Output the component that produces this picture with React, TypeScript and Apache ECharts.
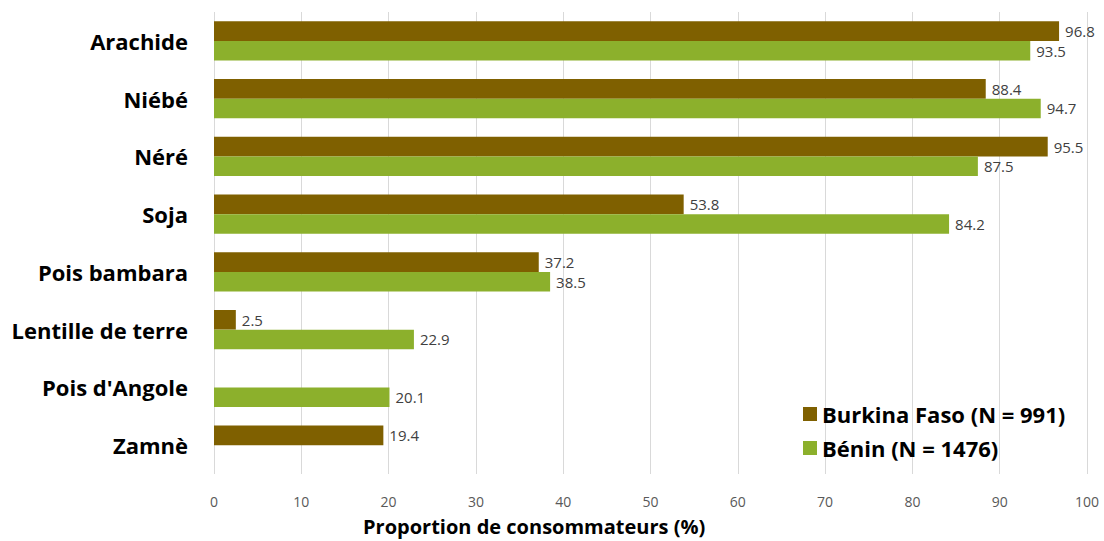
import React, { useEffect, useRef } from "react";
import * as echarts from "echarts";

const categories = ["Arachide", "Niébé", "Néré", "Soja", "Pois bambara", "Lentille de terre", "Pois d'Angole", "Zamnè"];
const burkina: (number | string)[] = [96.8, 88.4, 95.5, 53.8, 37.2, 2.5, "-", 19.4];
const benin: (number | string)[] = [93.5, 94.7, 87.5, 84.2, 38.5, 22.9, 20.1, "-"];
const xTicks = [0, 10, 20, 30, 40, 50, 60, 70, 80, 90, 100];
const seriesNames = ["Burkina Faso (N = 991)", "Bénin (N = 1476)"];
const axisTitle = "Proportion de consommateurs (%)";

const FONT = "'Open Sans', 'Noto Sans', sans-serif";

export default function App() {
  const ref = useRef<HTMLDivElement>(null);
  useEffect(() => {
    const chart = echarts.init(ref.current!, null, { renderer: "svg" });
    const label = {
      show: true,
      position: "right" as const,
      distance: 6,
      color: "#404040",
      fontSize: 15,
      fontFamily: FONT,
      formatter: (p: any) => Number(p.value).toFixed(1),
    };
    chart.setOption({
      animation: false,
      grid: { left: 214, right: 17, top: 12, bottom: 67 },
      legend: {
        orient: "vertical",
        left: 798,
        top: 398,
        itemWidth: 14,
        itemHeight: 14,
        itemGap: 12,
        icon: "rect",
        textStyle: { fontSize: 22, fontWeight: "bold", color: "#000", fontFamily: FONT },
        data: seriesNames,
      },
      xAxis: {
        type: "value",
        min: xTicks[0],
        max: xTicks[xTicks.length - 1],
        interval: 10,
        axisLine: { show: false },
        axisTick: { show: false },
        splitLine: { show: true, lineStyle: { color: "#d9d9d9", width: 1 } },
        axisLabel: { color: "#595959", fontSize: 14, fontFamily: FONT, margin: 20 },
      },
      yAxis: {
        type: "category",
        data: categories,
        inverse: true,
        axisLine: { show: false },
        axisTick: { show: false },
        axisLabel: {
          color: "#000",
          fontSize: 22,
          fontWeight: "bold",
          fontFamily: FONT,
          margin: 26,
          padding: [0, 0, 5, 0],
        },
      },
      graphic: [
        {
          type: "text",
          left: 363,
          top: 516,
          style: { text: axisTitle, fontSize: 20, fontWeight: "bold", fill: "#000", fontFamily: FONT },
        },
      ],
      series: [
        {
          name: seriesNames[0],
          type: "bar",
          data: burkina,
          itemStyle: { color: "#7f6000" },
          barGap: "0%",
          barCategoryGap: "32%",
          label,
        },
        {
          name: seriesNames[1],
          type: "bar",
          data: benin,
          itemStyle: { color: "#8cb02c" },
          barGap: "0%",
          barCategoryGap: "32%",
          label,
        },
      ],
    });
    return () => chart.dispose();
  }, []);
  return <div ref={ref} style={{ width: 1104, height: 541, position: "absolute", left: 0, top: 0 }} />;
}
